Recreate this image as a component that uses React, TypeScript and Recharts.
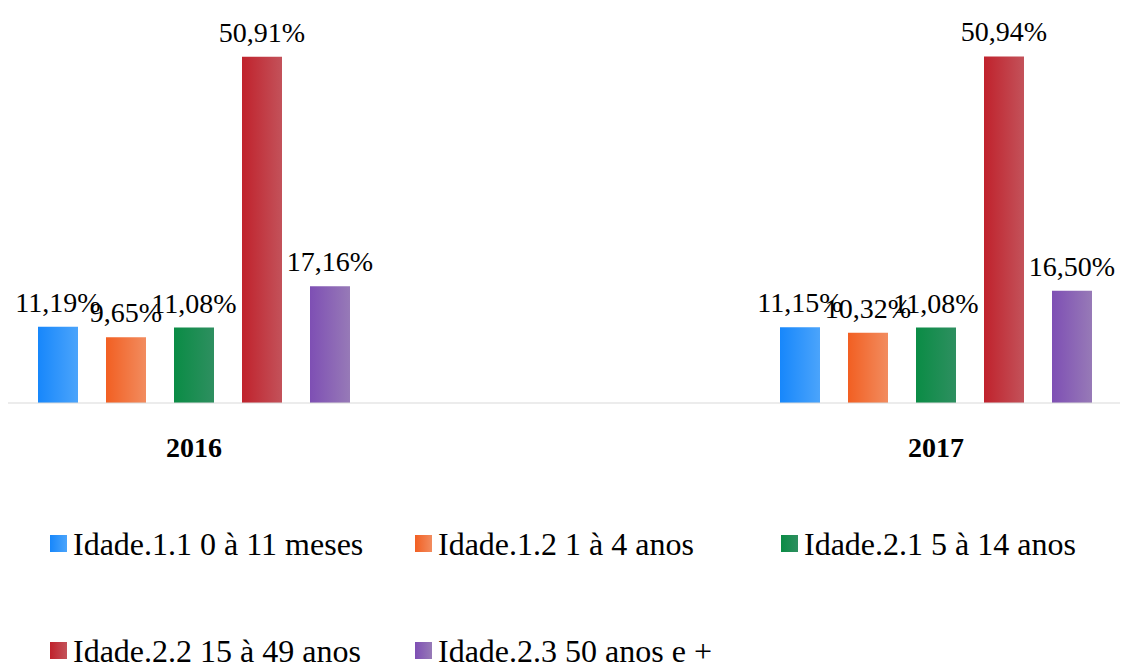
import React from 'react';
import { BarChart, Bar, XAxis, YAxis, LabelList, Legend } from 'recharts';

if (typeof document !== 'undefined') document.body.style.margin = '0';

// dados
const categories = ['2016', '2017'];
const seriesNames = [
  'Idade.1.1 0 à 11 meses',
  'Idade.1.2 1 à 4 anos',
  'Idade.2.1 5 à 14 anos',
  'Idade.2.2 15 à 49 anos',
  'Idade.2.3 50 anos e +',
];
const idade11 = [11.19, 11.15];
const idade12 = [9.65, 10.32];
const idade21 = [11.08, 11.08];
const idade22 = [50.91, 50.94];
const idade23 = [17.16, 16.5];

const seriesValues = [idade11, idade12, idade21, idade22, idade23];
const keys = ['s0', 's1', 's2', 's3', 's4'];

// gradient colours (left -> right)
const GRADIENTS = [
  ['#1787fb', '#4ba4fb'],
  ['#f25f22', '#f28c5f'],
  ['#0a8c45', '#2e8f60'],
  ['#c0222c', '#c3525a'],
  ['#7e4fb4', '#977ab7'],
];

const data = categories.map((cat, i) => {
  const row: any = { name: cat };
  keys.forEach((k, j) => {
    row[k] = seriesValues[j][i];
  });
  return row;
});

const FONT = 'Liberation Serif';

const fmt = (v: any) => `${Number(v).toFixed(2).replace('.', ',')}%`;

const CategoryTick = ({ x, y, payload }: any) => (
  <text x={x} y={y} dy={46} textAnchor="middle" fontFamily={FONT} fontSize={28} fontWeight="bold" fill="#000">
    {payload.value}
  </text>
);

// label drawn above the bar
const ValueLabel = ({ x, y, width, value }: any) => (
  <text x={x + width / 2} y={y - 15} textAnchor="middle" fontFamily={FONT} fontSize={28} fill="#000">
    {fmt(value)}
  </text>
);

const LEGEND_COLS = [50, 415, 781];

const LegendContent = () => (
  <svg width={1129} height={150} style={{ display: 'block' }}>
    <defs>
      {GRADIENTS.map(([c1, c2], i) => (
        <linearGradient key={i} id={`lgrad${i}`} x1="0" y1="0" x2="1" y2="0">
          <stop offset="0%" stopColor={c1} />
          <stop offset="100%" stopColor={c2} />
        </linearGradient>
      ))}
    </defs>
    {seriesNames.map((name, i) => {
      const row = Math.floor(i / 3);
      const col = i % 3;
      const x = LEGEND_COLS[col];
      const base = 41 + row * 107;
      return (
        <g key={name}>
          <rect x={x} y={base - 20} width={17} height={17} fill={`url(#lgrad${i})`} />
          <text x={x + 23} y={base} fontFamily={FONT} fontSize={32} fill="#000">
            {name}
          </text>
        </g>
      );
    })}
  </svg>
);

export default function App() {
  return (
    <div style={{ background: '#fff', width: 1129, height: 664 }}>
      <BarChart
        width={1129}
        height={664}
        data={data}
        margin={{ top: 22, right: 9, left: 8, bottom: 0 }}
        barSize={40}
        barGap={28}
      >
        <defs>
          {GRADIENTS.map(([c1, c2], i) => (
            <linearGradient key={i} id={`grad${i}`} x1="0" y1="0" x2="1" y2="0">
              <stop offset="0%" stopColor={c1} />
              <stop offset="100%" stopColor={c2} />
            </linearGradient>
          ))}
        </defs>
        <XAxis
          dataKey="name"
          axisLine={{ stroke: '#d9d9d9', strokeWidth: 1 }}
          tickLine={false}
          tick={<CategoryTick />}
          height={111}
          padding={{ left: -185, right: -187 }}
          interval={0}
        />
        <YAxis hide domain={[0, 56]} />
        <Legend verticalAlign="bottom" wrapperStyle={{ left: 0 }} content={<LegendContent />} />
        {keys.map((k, i) => (
          <Bar key={k} dataKey={k} name={seriesNames[i]} fill={`url(#grad${i})`} isAnimationActive={false}>
            <LabelList dataKey={k} content={<ValueLabel />} />
          </Bar>
        ))}
      </BarChart>
    </div>
  );
}
